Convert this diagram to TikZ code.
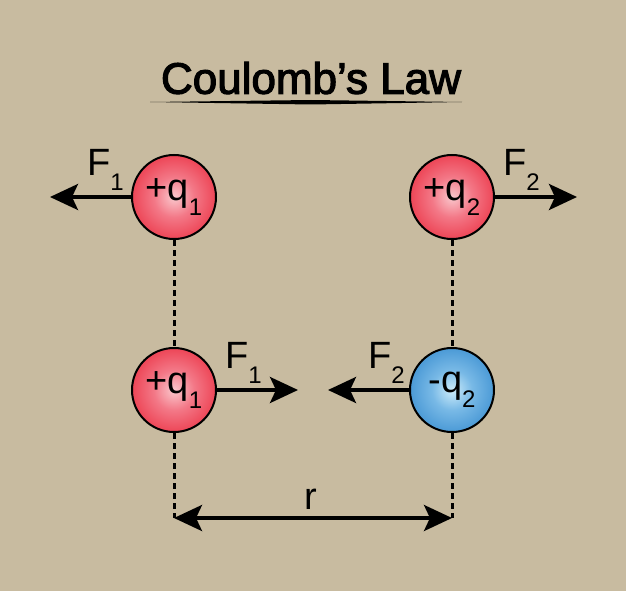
\documentclass[tikz,border=0pt]{standalone}
\usepackage{fontspec}
\setmainfont{Liberation Sans}
\newfontfamily\titlefont{Liberation Sans}[FakeBold=2.6]
\usetikzlibrary{arrows.meta}
\definecolor{bgtan}{RGB}{200,187,160}
\definecolor{redcore}{RGB}{250,200,205}
\definecolor{redmid}{RGB}{243,120,135}
\definecolor{redouter}{RGB}{235,50,68}
\definecolor{redrim}{RGB}{225,32,48}
\definecolor{bluecore}{RGB}{205,236,250}
\definecolor{bluemid}{RGB}{120,185,230}
\definecolor{blueouter}{RGB}{58,142,208}
\definecolor{bluerim}{RGB}{36,118,188}
\pgfdeclareradialshading{redball}{\pgfpoint{0bp}{0bp}}{color(0bp)=(redcore); color(12bp)=(redmid); color(30bp)=(redouter); color(50bp)=(redrim)}
\pgfdeclareradialshading{blueball}{\pgfpoint{0bp}{0bp}}{color(0bp)=(bluecore); color(12bp)=(bluemid); color(30bp)=(blueouter); color(50bp)=(bluerim)}
\newcommand{\sbs}[1]{\raisebox{-0.4em}{\fontsize{24}{24}\selectfont#1}}

\begin{document}
\begin{tikzpicture}[x=1pt,y=-1pt,
    charge/.style={circle,draw=black,line width=2pt,minimum size=84pt,inner sep=0pt,
      font=\fontsize{38}{38}\selectfont},
    poscharge/.style={charge,shading=redball},
    negcharge/.style={charge,shading=blueball},
    force/.style={line width=3.5pt,-{Stealth[length=28pt,width=26pt,inset=6pt]}},
    flabel/.style={anchor=base west,inner sep=0pt,font=\fontsize{38}{38}\selectfont},
    dots/.style={line width=3pt,dash pattern=on 6pt off 4pt}]
  \fill[bgtan] (0,0) rectangle (626,591);
  \useasboundingbox (0,0) rectangle (626,591);
  \node[font=\fontsize{44}{44}\titlefont] (title) at (311,78) {Coulomb’s Law};
  \fill (150,102) -- (311,100) -- (462,102) -- (311,104.5) -- cycle;
  % charges
  \node[poscharge] (qa) at (174,197) {+q\sbs{1}};
  \node[poscharge] (qb) at (452,197) {+q\sbs{2}};
  \node[poscharge] (qc) at (174,390) {+q\sbs{1}};
  \node[negcharge] (qd) at (452,390) {-q\sbs{2}};
  % force ends
  \coordinate (fa) at (50,197);
  \coordinate (fb) at (577,197);
  \coordinate (fc) at (298,390);
  \coordinate (fd) at (328,390);
  \draw[force] (qa.west) -- (fa);
  \draw[force] (qb.east) -- (fb);
  \draw[force] (qc.east) -- (fc);
  \draw[force] (qd.west) -- (fd);
  \node[flabel] (la) at (87,175) {F\sbs{1}};
  \node[flabel] (lb) at (503,175) {F\sbs{2}};
  \node[flabel] (lc) at (225,368) {F\sbs{1}};
  \node[flabel] (ld) at (368,368) {F\sbs{2}};
  % distance
  \coordinate (ra) at (174,518);
  \coordinate (rb) at (452,518);
  \draw[dots] (qa.south) -- (qc.north);
  \draw[dots] (qb.south) -- (qd.north);
  \draw[dots] (qc.south) -- (ra);
  \draw[dots] (qd.south) -- (rb);
  \draw[line width=3.5pt,{Stealth[length=28pt,width=26pt,inset=6pt]}-{Stealth[length=28pt,width=26pt,inset=6pt]}] (ra) -- (rb);
  \node[flabel] (r) at (304,509) {r};
\end{tikzpicture}
\end{document}
